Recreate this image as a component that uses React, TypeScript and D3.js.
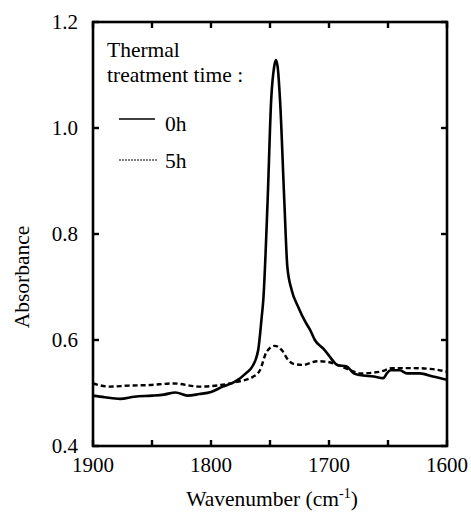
import React, { useRef, useEffect } from "react";
import * as d3 from "d3";

const wn0h = [1900,1890,1877,1865,1850,1840,1830,1820,1810,1800,1790,1780,1770,1765,1760,1757,1755.7,1752,1749,1746.5,1745,1743.5,1741.5,1737.9,1735.3,1731.6,1726,1720,1716,1712,1705,1700.5,1696,1693,1685,1679,1674,1662,1654,1651,1648,1640,1634,1623,1612,1600];
const abs0h = [0.495,0.492,0.489,0.493,0.495,0.497,0.501,0.495,0.498,0.502,0.512,0.521,0.538,0.550,0.581,0.644,0.675,0.864,1.053,1.115,1.128,1.115,1.053,0.864,0.738,0.694,0.662,0.634,0.619,0.600,0.584,0.572,0.559,0.553,0.550,0.537,0.534,0.531,0.528,0.537,0.543,0.543,0.537,0.537,0.531,0.525];

const wn5h = [1900,1886,1870,1852,1832,1809,1792,1778,1764,1758.5,1752.8,1746,1740,1734.5,1730,1722,1710,1702,1693,1682,1674,1657,1646,1629,1612,1600];
const abs5h = [0.518,0.512,0.514,0.515,0.518,0.512,0.515,0.521,0.531,0.543,0.578,0.589,0.581,0.562,0.555,0.553,0.560,0.559,0.553,0.543,0.537,0.540,0.547,0.547,0.545,0.540];

const xTicks = [1900,1850,1800,1750,1700,1650,1600];
const xLabels = [1900,1800,1700,1600];
const yTicks = [0.4,0.6,0.8,1.0,1.2];

const legendTitle = ["Thermal", "treatment time :"];
const seriesNames = ["0h", "5h"];

export default function App() {
  const ref = useRef<SVGSVGElement>(null);
  useEffect(() => {
    const W = 471, H = 515;
    const L = 93, R = 447, Tp = 22, B = 446;
    const svg = d3.select(ref.current);
    svg.selectAll("*").remove();
    const x = d3.scaleLinear().domain([1900, 1600]).range([L, R]);
    const y = d3.scaleLinear().domain([0.4, 1.2]).range([B, Tp]);
    const line = d3.line<[number, number]>().x(d => x(d[0])).y(d => y(d[1])).curve(d3.curveMonotoneX);
    svg.append("rect").attr("width", W).attr("height", H).attr("fill", "#fff");
    svg.append("defs").append("clipPath").attr("id", "pc").append("rect")
      .attr("x", L).attr("y", Tp).attr("width", R - L).attr("height", B - Tp);
    const g = svg.append("g").attr("clip-path", "url(#pc)");
    g.append("path").attr("d", line(wn5h.map((w, i) => [w, abs5h[i]] as [number, number])))
      .attr("fill", "none").attr("stroke", "#000").attr("stroke-width", 2.4).attr("stroke-dasharray", "5,3");
    g.append("path").attr("d", line(wn0h.map((w, i) => [w, abs0h[i]] as [number, number])))
      .attr("fill", "none").attr("stroke", "#000").attr("stroke-width", 2.6).attr("stroke-linejoin", "round");
    const tl = 6;
    xTicks.forEach(t => {
      svg.append("line").attr("x1", x(t)).attr("x2", x(t)).attr("y1", B).attr("y2", B - tl).attr("stroke", "#000").attr("stroke-width", 2.4);
      svg.append("line").attr("x1", x(t)).attr("x2", x(t)).attr("y1", Tp).attr("y2", Tp + tl).attr("stroke", "#000").attr("stroke-width", 2.4);
    });
    yTicks.forEach(t => {
      svg.append("line").attr("x1", L).attr("x2", L + tl).attr("y1", y(t)).attr("y2", y(t)).attr("stroke", "#000").attr("stroke-width", 2.4);
      svg.append("line").attr("x1", R).attr("x2", R - tl).attr("y1", y(t)).attr("y2", y(t)).attr("stroke", "#000").attr("stroke-width", 2.4);
    });
    svg.append("rect").attr("x", L).attr("y", Tp).attr("width", R - L).attr("height", B - Tp)
      .attr("fill", "none").attr("stroke", "#000").attr("stroke-width", 2.6);

    const txt = (xx: number, yy: number, s: string, size: number, anchor = "start") =>
      svg.append("text").attr("x", xx).attr("y", yy).attr("text-anchor", anchor)
        .attr("font-family", "Liberation Serif").style("font-family", "Liberation Serif")
        .style("font-size", size + "px").attr("fill", "#000").text(s);

    yTicks.forEach(t => txt(78, y(t) + 7, t.toFixed(1), 21, "end"));
    xLabels.forEach(t => txt(x(t), 472, String(t), 21, "middle"));
    const title = txt(272, 506, "Wavenumber (cm", 21.5, "middle");
    title.append("tspan").attr("dy", -8).style("font-size", "14px").text("-1");
    title.append("tspan").attr("dy", 8).text(")");
    txt(0, 0, "Absorbance", 21.5, "middle").attr("transform", "translate(29,277) rotate(-90)");
    txt(107, 57, legendTitle[0], 21.5);
    txt(107, 81.5, legendTitle[1], 21.5);
    svg.append("line").attr("x1", 119).attr("x2", 155).attr("y1", 119).attr("y2", 119).attr("stroke", "#000").attr("stroke-width", 1.5);
    txt(165, 131, seriesNames[0], 21.5);
    svg.append("line").attr("x1", 119).attr("x2", 157).attr("y1", 160).attr("y2", 160).attr("stroke", "#000").attr("stroke-width", 1.2).attr("stroke-dasharray", "2,1");
    txt(165, 168, seriesNames[1], 21.5);
  }, []);
  return (
    <svg ref={ref} width={471} height={515} style={{ position: "absolute", left: 0, top: 0 }} />
  );
}
